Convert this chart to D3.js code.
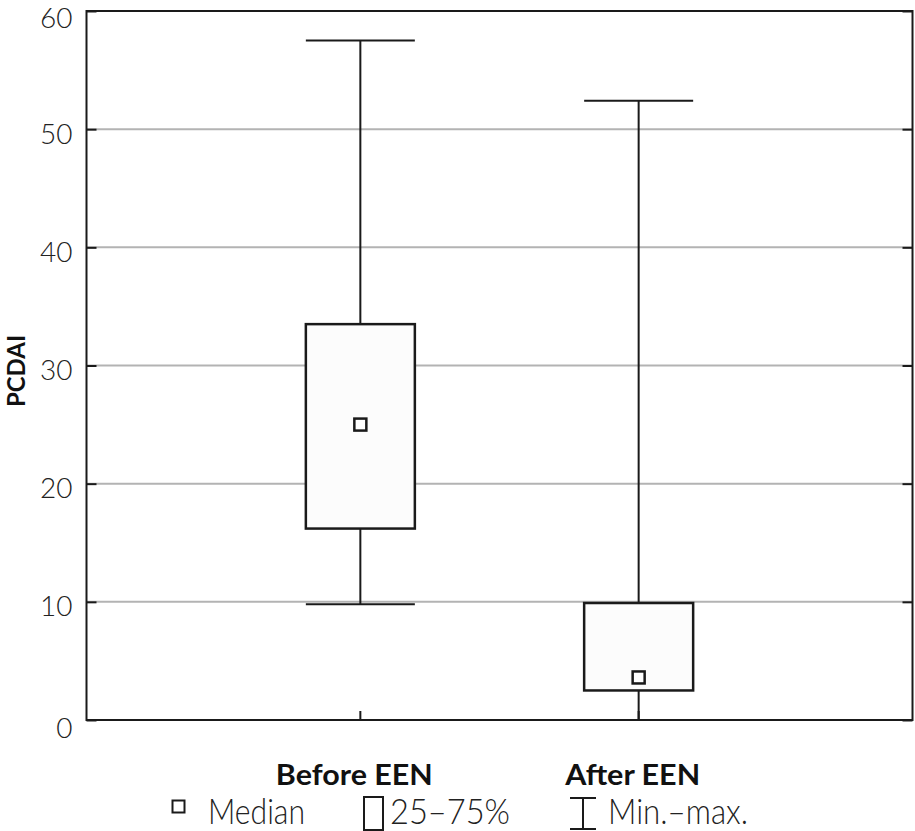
<!DOCTYPE html>
<html><head><meta charset="utf-8">
<script src="https://cdn.jsdelivr.net/npm/d3@7"></script>
<style>
body{margin:0;background:#fff;}
text{font-family:Lato, "Open Sans", sans-serif;}
</style></head>
<body><svg id="c" width="915" height="831"></svg>
<script>
const categories = ["Before EEN", "After EEN"];
const mins = [9.8, 0];
const q1s = [16.2, 2.5];
const medians = [25, 3.6];
const q3s = [33.5, 9.9];
const maxs = [57.5, 52.4];
const yTicks = [0, 10, 20, 30, 40, 50, 60];
const legendLabels = ["Median", "25–75%", "Min.–max."];

const svg = d3.select("#c");
const L = 86.5, R = 912.5, T = 11, B = 720;
const y = d3.scaleLinear().domain([0, 60]).range([B, T]);
const x = d3.scaleBand().domain(categories).range([L, R]).paddingInner(0).paddingOuter(0.484);
const xc = d => x(d) + x.bandwidth() / 2;
const bw = 109;
const ink = "#1a1a1a";

// grid
svg.append("g").selectAll("line").data(yTicks.filter(t => t > 0 && t < 60)).join("line")
  .attr("x1", L).attr("x2", R).attr("y1", d => y(d)).attr("y2", d => y(d))
  .attr("stroke", "#b3b3b3").attr("stroke-width", 2);

// axes
const yAxis = d3.axisLeft(y).tickValues(yTicks).tickSize(-10).tickPadding(14).tickFormat(d3.format("d"));
const gy = svg.append("g").attr("transform", `translate(${L},0)`).call(yAxis);
gy.select(".domain").remove();
gy.selectAll("line").attr("stroke", ink).attr("stroke-width", 2);
gy.selectAll("text").attr("font-size", 28).attr("fill", "#222").attr("dy", "0.5em").attr("font-weight", 300);
gy.selectAll(".tick").filter(d => d === 0).select("text").attr("dy", "0.64em");
gy.selectAll(".tick").filter(d => d === 60).select("text").attr("dy", "0.6em");

const gyR = svg.append("g").attr("transform", `translate(${R},0)`).call(d3.axisRight(y).tickValues(yTicks).tickSize(-10).tickFormat(""));
gyR.select(".domain").remove();
gyR.selectAll("line").attr("stroke", ink).attr("stroke-width", 2);

const gx = svg.append("g").attr("transform", `translate(0,${B})`).call(d3.axisBottom(x).tickSize(-9).tickFormat(""));
gx.select(".domain").remove();
gx.selectAll("line").attr("stroke", ink).attr("stroke-width", 2);

// frame
svg.append("rect").attr("x", L).attr("y", T).attr("width", R - L).attr("height", B - T)
  .attr("fill", "none").attr("stroke", ink).attr("stroke-width", 2);

// boxes
const g = svg.append("g");
const catW = [157, 135];
categories.forEach((c, i) => {
  const cx = xc(c);
  g.append("line").attr("x1", cx).attr("x2", cx).attr("y1", y(maxs[i])).attr("y2", y(q3s[i])).attr("stroke", ink).attr("stroke-width", 2);
  g.append("line").attr("x1", cx).attr("x2", cx).attr("y1", y(q1s[i])).attr("y2", y(mins[i])).attr("stroke", ink).attr("stroke-width", 2);
  g.append("line").attr("x1", cx - bw / 2).attr("x2", cx + bw / 2).attr("y1", y(maxs[i])).attr("y2", y(maxs[i])).attr("stroke", ink).attr("stroke-width", 2);
  g.append("line").attr("x1", cx - bw / 2).attr("x2", cx + bw / 2).attr("y1", y(mins[i])).attr("y2", y(mins[i])).attr("stroke", ink).attr("stroke-width", 2);
  g.append("rect").attr("x", cx - bw / 2).attr("y", y(q3s[i])).attr("width", bw).attr("height", y(q1s[i]) - y(q3s[i]))
    .attr("fill", "#fcfcfc").attr("stroke", ink).attr("stroke-width", 2.5);
  g.append("rect").attr("x", cx - 6).attr("y", y(medians[i]) - 6).attr("width", 12).attr("height", 12)
    .attr("fill", "#fff").attr("stroke", ink).attr("stroke-width", 2.5);
  svg.append("text").attr("x", cx - 6).attr("y", 785).attr("text-anchor", "middle")
    .attr("font-size", 28).attr("font-weight", 700).attr("fill", "#111")
    .attr("textLength", catW[i]).attr("lengthAdjust", "spacingAndGlyphs").text(c);
});

// y label
svg.append("text").attr("transform", `translate(25,371) rotate(-90)`).attr("text-anchor", "middle")
  .attr("font-size", 24).attr("font-weight", 700).attr("fill", "#111").text("PCDAI");

// legend
const lg = svg.append("g");
const ltY = 824, lfs = 35;
lg.append("rect").attr("x", 172.5).attr("y", 800.5).attr("width", 12).attr("height", 12).attr("fill", "#fff").attr("stroke", ink).attr("stroke-width", 2);
lg.append("text").attr("x", 208).attr("y", ltY).attr("font-size", lfs).attr("font-weight", 300).attr("fill", "#222")
  .attr("textLength", 97).attr("lengthAdjust", "spacingAndGlyphs").text(legendLabels[0]);
lg.append("rect").attr("x", 364).attr("y", 797).attr("width", 19).attr("height", 33).attr("fill", "#fff").attr("stroke", ink).attr("stroke-width", 2);
lg.append("text").attr("x", 390).attr("y", ltY).attr("font-size", lfs).attr("font-weight", 300).attr("fill", "#222")
  .attr("textLength", 120).attr("lengthAdjust", "spacingAndGlyphs").text(legendLabels[1]);
lg.append("line").attr("x1", 583).attr("x2", 583).attr("y1", 798).attr("y2", 829).attr("stroke", ink).attr("stroke-width", 2);
lg.append("line").attr("x1", 570).attr("x2", 596).attr("y1", 798).attr("y2", 798).attr("stroke", ink).attr("stroke-width", 2);
lg.append("line").attr("x1", 570).attr("x2", 596).attr("y1", 829).attr("y2", 829).attr("stroke", ink).attr("stroke-width", 2);
lg.append("text").attr("x", 608).attr("y", ltY).attr("font-size", lfs).attr("font-weight", 300).attr("fill", "#222")
  .attr("textLength", 140).attr("lengthAdjust", "spacingAndGlyphs").text(legendLabels[2]);
</script></body></html>
